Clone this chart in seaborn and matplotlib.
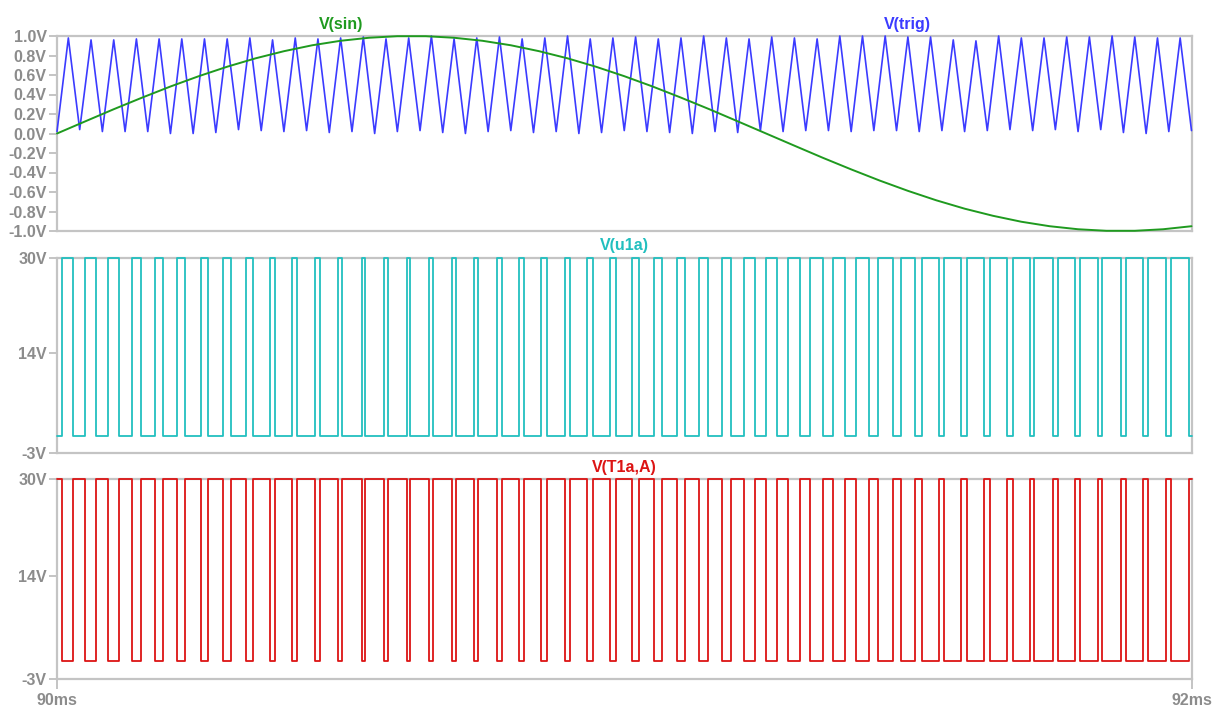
import pandas as pd
import matplotlib
matplotlib.use('Agg')
import matplotlib.pyplot as plt
import seaborn as sns

# all times in ms after 90 ms (window 90ms .. 92ms)

# V(sin):
sin_t = [0.00, 0.05, 0.10, 0.15, 0.20, 0.25, 0.30, 0.35, 0.40, 0.45,
         0.50, 0.55, 0.60, 0.65, 0.70, 0.75, 0.80, 0.85, 0.90, 0.95,
         1.00, 1.05, 1.10, 1.15, 1.20, 1.25, 1.30, 1.35, 1.40, 1.45,
         1.50, 1.55, 1.60, 1.65, 1.70, 1.75, 1.80, 1.85, 1.90, 1.95, 2.00]
sin_v = [0.00, 0.125, 0.249, 0.368, 0.482, 0.588, 0.685, 0.771, 0.844, 0.905,
         0.951, 0.982, 0.998, 0.998, 0.982, 0.951, 0.905, 0.844, 0.771, 0.685,
         0.588, 0.482, 0.368, 0.249, 0.125, 0.00, -0.125, -0.249, -0.368, -0.482,
         -0.588, -0.685, -0.771, -0.844, -0.905, -0.951, -0.982, -0.998, -0.998, -0.982, -0.951]

# V(trig): triangle corners
trig_peak_t = [0.02, 0.06, 0.10, 0.14, 0.18, 0.22, 0.26, 0.30, 0.34, 0.38,
               0.42, 0.46, 0.50, 0.54, 0.58, 0.62, 0.66, 0.70, 0.74, 0.78,
               0.82, 0.86, 0.90, 0.94, 0.98, 1.02, 1.06, 1.10, 1.14, 1.18,
               1.22, 1.26, 1.30, 1.34, 1.38, 1.42, 1.46, 1.50, 1.54, 1.58,
               1.62, 1.66, 1.70, 1.74, 1.78, 1.82, 1.86, 1.90, 1.94, 1.98]
trig_peak_v = [0.98, 0.96, 0.96, 0.97, 0.97, 0.97, 0.97, 0.97, 0.98, 0.96,
               0.98, 0.97, 0.98, 0.99, 0.97, 0.98, 1.00, 0.97, 0.98, 0.99,
               0.97, 0.98, 1.00, 0.97, 0.98, 0.99, 0.97, 0.98, 1.00, 0.98,
               0.97, 0.99, 0.98, 0.97, 1.00, 1.00, 1.00, 0.99, 0.99, 0.96,
               0.95, 1.00, 0.98, 0.98, 0.99, 0.99, 1.00, 0.99, 0.98, 0.98]
trig_trough_t = [0.00, 0.04, 0.08, 0.12, 0.16, 0.20, 0.24, 0.28, 0.32, 0.36,
                 0.40, 0.44, 0.48, 0.52, 0.56, 0.60, 0.64, 0.68, 0.72, 0.76,
                 0.80, 0.84, 0.88, 0.92, 0.96, 1.00, 1.04, 1.08, 1.12, 1.16,
                 1.20, 1.24, 1.28, 1.32, 1.36, 1.40, 1.44, 1.48, 1.52, 1.56,
                 1.60, 1.64, 1.68, 1.72, 1.76, 1.80, 1.84, 1.88, 1.92, 1.96, 2.00]
trig_trough_v = [0.02, 0.04, 0.02, 0.02, 0.02, 0.00, 0.00, 0.01, 0.04, 0.03,
                 0.02, 0.03, 0.01, 0.02, 0.00, 0.02, 0.03, 0.01, 0.00, 0.02,
                 0.03, 0.01, 0.02, 0.00, 0.01, 0.03, 0.02, 0.01, 0.00, 0.02,
                 0.01, 0.03, 0.02, 0.03, 0.03, 0.02, 0.03, 0.03, 0.02, 0.03,
                 0.02, 0.03, 0.04, 0.03, 0.04, 0.02, 0.04, 0.01, 0.00, 0.02, 0.03]

# V(u1a) switching instants (rising / falling), V(T1a,A) switches inverted on the same edges
u1a_rise = [0.009, 0.050, 0.090, 0.132, 0.172, 0.212, 0.253, 0.293, 0.334, 0.375,
            0.414, 0.455, 0.495, 0.537, 0.576, 0.617, 0.656, 0.696, 0.735, 0.776,
            0.815, 0.854, 0.895, 0.935, 0.974, 1.013, 1.053, 1.093, 1.132, 1.172,
            1.211, 1.250, 1.289, 1.328, 1.368, 1.408, 1.448, 1.487, 1.525, 1.564,
            1.604, 1.645, 1.685, 1.723, 1.765, 1.804, 1.843, 1.884, 1.924, 1.964]
u1a_fall = [0.029, 0.069, 0.109, 0.148, 0.187, 0.226, 0.266, 0.306, 0.345, 0.384,
            0.423, 0.463, 0.503, 0.543, 0.584, 0.623, 0.663, 0.704, 0.743, 0.784,
            0.823, 0.864, 0.905, 0.945, 0.985, 1.026, 1.067, 1.107, 1.147, 1.188,
            1.230, 1.269, 1.309, 1.350, 1.390, 1.431, 1.473, 1.512, 1.554, 1.594,
            1.635, 1.675, 1.715, 1.756, 1.795, 1.836, 1.876, 1.915, 1.955, 1.995]
v_high = 30.0
v_low = 0.0

top_ticks = [1.0, 0.8, 0.6, 0.4, 0.2, 0.0, -0.2, -0.4, -0.6, -0.8, -1.0]
pwm_ticks = [30, 14, -3]
x_ticks = [0, 2]
x_labels = ['90ms', '92ms']

frame_gray = '#c4c4c4'
label_gray = '#8c8c8c'
c_sin = '#1f9a1f'
c_trig = '#3b3bff'
c_u1a = '#22bfbf'
c_t1a = '#dc1414'

sns.set_style('white')
plt.rcParams['font.family'] = ['Liberation Sans', 'DejaVu Sans']
plt.rcParams['font.weight'] = 'bold'
plt.rcParams['font.size'] = 11.5


def pwm_frame(first_level, second_level):
    # step points: level holds until next edge
    ts = [0.0]
    vs = [first_level]
    for r, f in zip(u1a_rise, u1a_fall):
        ts += [r, f]
        vs += [second_level, first_level]
    ts.append(2.0)
    vs.append(first_level)
    return pd.DataFrame({'t': ts, 'v': vs})


def style_pane(ax, ticks, labels):
    ax.set_xlim(0, 2)
    for s in ax.spines.values():
        s.set_visible(True)
        s.set_color(frame_gray)
        s.set_linewidth(1.6)
    ax.set_yticks(ticks)
    ax.set_yticklabels(labels)
    ax.tick_params(axis='y', left=True, length=6, width=1.4, color=frame_gray,
                   labelcolor=label_gray, pad=1.5)
    ax.set_xticks([])
    ax.set_xlabel('')
    ax.set_ylabel('')


fig = plt.figure(figsize=(12.14, 7.06), dpi=100)
W, H = 1214, 706
x0, x1 = 57, 1191.5
ax_top = fig.add_axes([x0 / W, 1 - 231 / H, (x1 - x0) / W, 195 / H])
ax_mid = fig.add_axes([x0 / W, 1 - 453.3 / H, (x1 - x0) / W, 195.6 / H])
ax_bot = fig.add_axes([x0 / W, 1 - 679.3 / H, (x1 - x0) / W, 200 / H])

# top pane
trig = pd.DataFrame({'t': trig_peak_t + trig_trough_t, 'v': trig_peak_v + trig_trough_v}).sort_values('t')
sine = pd.DataFrame({'t': sin_t, 'v': sin_v})
sns.lineplot(data=trig, x='t', y='v', ax=ax_top, color=c_trig, lw=1.2,
             estimator=None, sort=False, zorder=3, clip_on=False)
sns.lineplot(data=sine, x='t', y='v', ax=ax_top, color=c_sin, lw=1.4,
             estimator=None, sort=False, zorder=4, clip_on=False)
ax_top.set_ylim(-1, 1)
style_pane(ax_top, top_ticks, [f'{v:.1f}V' for v in top_ticks])

# middle pane
sns.lineplot(data=pwm_frame(v_low, v_high), x='t', y='v', ax=ax_mid, color=c_u1a, lw=1.3,
             estimator=None, sort=False, drawstyle='steps-post', zorder=3, clip_on=False)
ax_mid.set_ylim(-3, 30)
style_pane(ax_mid, pwm_ticks, [f'{v}V' for v in pwm_ticks])

# bottom pane
sns.lineplot(data=pwm_frame(v_high, v_low), x='t', y='v', ax=ax_bot, color=c_t1a, lw=1.3,
             estimator=None, sort=False, drawstyle='steps-post', zorder=3, clip_on=False)
ax_bot.set_ylim(-3, 30)
style_pane(ax_bot, pwm_ticks, [f'{v}V' for v in pwm_ticks])
ax_bot.set_xticks(x_ticks)
ax_bot.set_xticklabels(x_labels)
ax_bot.tick_params(axis='x', bottom=True, length=7, width=1.4, color=frame_gray,
                   labelcolor=label_gray, pad=3)

# trace names
ax_top.text(0.25, 1 + 11 / 195, 'V(sin)', transform=ax_top.transAxes, color=c_sin,
            ha='center', va='center', fontweight='bold')
ax_top.text(0.75, 1 + 11 / 195, 'V(trig)', transform=ax_top.transAxes, color=c_trig,
            ha='center', va='center', fontweight='bold')
ax_mid.text(0.5, 1 + 12 / 195.6, 'V(u1a)', transform=ax_mid.transAxes, color=c_u1a,
            ha='center', va='center', fontweight='bold')
ax_bot.text(0.5, 1 + 12 / 200, 'V(T1a,A)', transform=ax_bot.transAxes, color=c_t1a,
            ha='center', va='center', fontweight='bold')

fig.savefig('out.png', dpi=100, facecolor='white')
